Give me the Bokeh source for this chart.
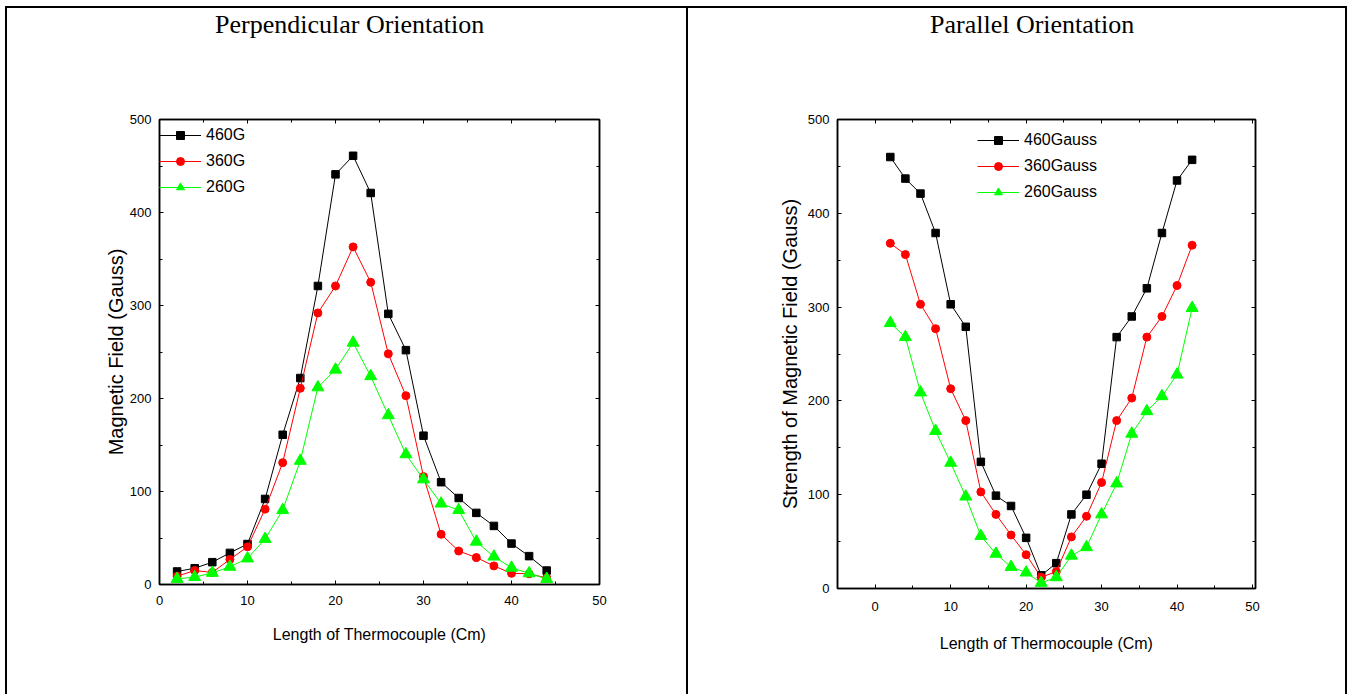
from bokeh.plotting import figure
from bokeh.layouts import row, column
from bokeh.models import LinearAxis, Legend, LegendItem, Range1d, BasicTicker, CustomJSTickFormatter, Div
from bokeh.embed import file_html
from bokeh.resources import INLINE

# ---- data: Perpendicular orientation ----
perp_x = [2, 4, 6, 8, 10, 12, 14, 16, 18, 20, 22, 24, 26, 28, 30, 32, 34, 36, 38, 40, 42, 44]
perp_460 = [14, 17.5, 24, 34, 43.5, 92, 161, 222, 321, 441, 461, 421, 291, 252, 160, 110, 93, 77, 63, 44, 30.5, 15]
perp_360 = [9, 15, 13, 27, 40.5, 81, 131, 211, 292, 321, 363, 325, 248, 203, 116, 54, 36, 29, 20, 12, 11.5, 7]
perp_260 = [6, 8, 12.5, 19, 28, 49, 80, 133, 212, 231, 260, 224, 182, 140, 113, 87, 80, 46, 30, 18, 12, 6]
perp_labels = ["460G", "360G", "260G"]

# ---- data: Parallel orientation ----
para_x = [2, 4, 6, 8, 10, 12, 14, 16, 18, 20, 22, 24, 26, 28, 30, 32, 34, 36, 38, 40, 42]
para_460 = [460, 437, 421, 379, 303, 279, 135, 99, 88, 54, 14, 27, 79, 100, 133, 268, 290, 320, 379, 435, 457]
para_360 = [368, 356, 303, 277, 213, 179, 103, 79, 57, 36, 12, 18, 55, 77, 113, 179, 203, 268, 290, 323, 366]
para_260 = [283, 268, 209, 168, 134, 98, 56, 37, 23, 17, 6, 12, 35, 44, 79, 112, 165, 189, 205, 228, 299]
para_labels = ["460Gauss", "360Gauss", "260Gauss"]

titles = ["Perpendicular Orientation", "Parallel Orientation"]

SANS = "Liberation Sans"
BLACK = "#000000"
RED = "#ff0000"
GREEN = "#00ff00"
DIV_H = 40


def style_axis(ax, show_labels=True):
    ax.ticker = BasicTicker(desired_num_ticks=6, num_minor_ticks=2)
    ax.major_tick_in = 4
    ax.major_tick_out = 0
    ax.minor_tick_in = 3
    ax.minor_tick_out = 0
    ax.axis_line_color = BLACK
    ax.axis_line_width = 1.5
    ax.major_tick_line_color = BLACK
    ax.minor_tick_line_color = BLACK
    ax.major_label_text_font = SANS
    ax.major_label_text_font_size = "13px"
    ax.major_label_text_color = BLACK
    ax.axis_label_text_font = SANS
    ax.axis_label_text_font_style = "normal"
    ax.axis_label_text_color = BLACK
    if not show_labels:
        ax.formatter = CustomJSTickFormatter(code="return ''")
        ax.major_label_standoff = 0


def title_div(text, width, left):
    html = ('<div style="position:absolute; left:%dpx; top:4px; white-space:nowrap; '
            'font-family:\'Liberation Serif\', serif; font-size:26px; line-height:26px; '
            'color:#000;">%s</div>' % (left, text))
    return Div(text=html, width=width, height=DIV_H, margin=0, styles={"position": "relative"})


def make_panel(width, height, xr, mbl, mbr, mbb, xs, series, labels, ylabel,
               legend_loc, ylab_size, xstand, xlstand, ystand):
    p = figure(width=width, height=height, x_range=Range1d(*xr), y_range=Range1d(0, 500),
               output_backend="svg", toolbar_location=None,
               min_border_left=mbl, min_border_right=mbr, min_border_top=119 - 8 - DIV_H,
               min_border_bottom=mbb)
    p.grid.visible = False
    p.outline_line_color = BLACK
    p.outline_line_width = 1.5
    p.background_fill_color = "white"
    p.border_fill_color = "white"

    xa = p.xaxis[0]
    ya = p.yaxis[0]
    style_axis(xa)
    style_axis(ya)
    xa.axis_label = "Length of Thermocouple (Cm)"
    xa.axis_label_text_font_size = "16px"
    xa.major_label_standoff = xstand
    xa.axis_label_standoff = xlstand
    ya.axis_label = ylabel
    ya.axis_label_text_font_size = ylab_size
    ya.major_label_standoff = 8
    ya.axis_label_standoff = ystand

    top = LinearAxis()
    right = LinearAxis()
    style_axis(top, False)
    style_axis(right, False)
    p.add_layout(top, "above")
    p.add_layout(right, "right")

    colors = [BLACK, RED, GREEN]
    items = []
    for i, (ys, lab) in enumerate(zip(series, labels)):
        ln = p.line(xs, ys, line_color=colors[i], line_width=1)
        if i == 0:
            mk = p.scatter(xs, ys, marker="square", size=7.5, fill_color=BLACK, line_color=BLACK)
        elif i == 1:
            mk = p.scatter(xs, ys, marker="circle", size=8, fill_color=RED, line_color=RED)
        else:
            mk = p.scatter(xs, ys, marker="triangle", size=12, fill_color=GREEN, line_color=GREEN)
        items.append(LegendItem(label=lab, renderers=[ln, mk]))

    leg = Legend(items=items, location=legend_loc, glyph_width=42, glyph_height=20,
                 label_height=20, spacing=6, padding=2, margin=0, label_standoff=5,
                 border_line_color=None, background_fill_alpha=0,
                 label_text_font=SANS, label_text_font_size="16px", label_text_color=BLACK)
    p.add_layout(leg)
    return p


H = 686 - DIV_H
p1 = make_panel(679, H, (0, 50), 152, 87, 110, perp_x, [perp_460, perp_360, perp_260], perp_labels,
                "Magnetic Field (Gauss)", (0, 387), "20px", 11, 18, 0)
p2 = make_panel(657, H, (-5, 50.4), 149, 90, 106, para_x, [para_460, para_360, para_260], para_labels,
                "Strength of Magnetic Field (Gauss)", (140, 386), "20px", 13, 21, 4)

col1 = column(title_div(titles[0], 679, 208), p1)
col2 = column(title_div(titles[1], 657, 242), p2, styles={"border-left": "2px solid black"})

layout = row(col1, col2, styles={"border-top": "2px solid black", "border-left": "2px solid black",
                                 "border-right": "2px solid black", "margin-left": "5px",
                                 "margin-top": "6px"})

open("out.html", "w").write(file_html(layout, INLINE))
